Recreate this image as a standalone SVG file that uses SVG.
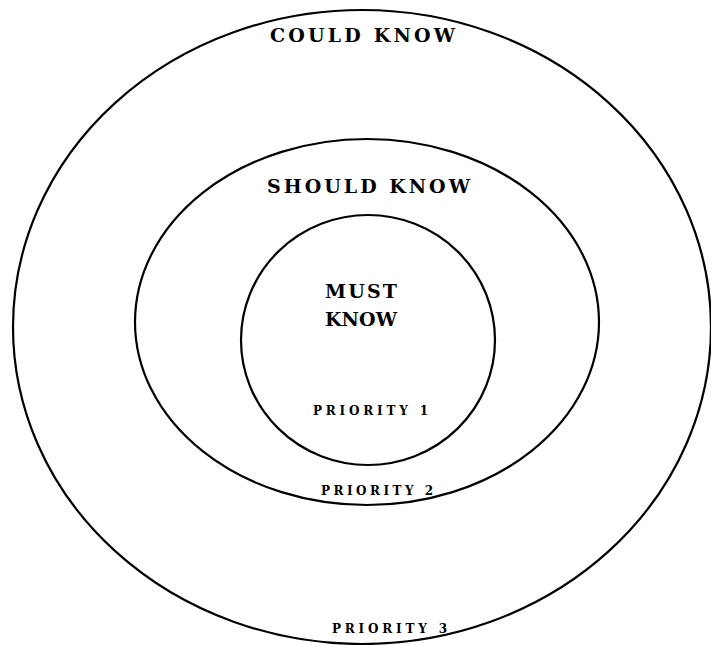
<svg xmlns="http://www.w3.org/2000/svg" width="711" height="645" viewBox="0 0 711 645">
<style>
.ring{fill:none;stroke:#000;stroke-width:2.2}
.lbl{font-family:"DejaVu Serif","Liberation Serif",serif;font-weight:bold;fill:#000}
.big{font-size:19px}
.small{font-size:12px}
</style>
<rect width="711" height="645" fill="#fff"/>
<g id="outer">
<ellipse class="ring" cx="362" cy="327" rx="349" ry="317"/>
<text class="lbl big" x="270" y="42" textLength="185" lengthAdjust="spacing">COULD KNOW</text>
<text class="lbl small" x="332" y="633" textLength="115" lengthAdjust="spacing">PRIORITY 3</text>
</g>
<g id="middle">
<ellipse class="ring" cx="367" cy="322" rx="232" ry="183"/>
<text class="lbl big" x="267" y="193" font-size="20" textLength="203" lengthAdjust="spacing">SHOULD KNOW</text>
<text class="lbl small" x="321" y="495" textLength="112" lengthAdjust="spacing">PRIORITY 2</text>
</g>
<g id="inner">
<ellipse class="ring" cx="368" cy="340" rx="127" ry="125"/>
<text class="lbl big" x="325" y="298" textLength="72" lengthAdjust="spacing">MUST</text>
<text class="lbl big" x="325" y="326" textLength="72" lengthAdjust="spacing">KNOW</text>
<text class="lbl small" x="313" y="415" textLength="115" lengthAdjust="spacing">PRIORITY 1</text>
</g>
</svg>
